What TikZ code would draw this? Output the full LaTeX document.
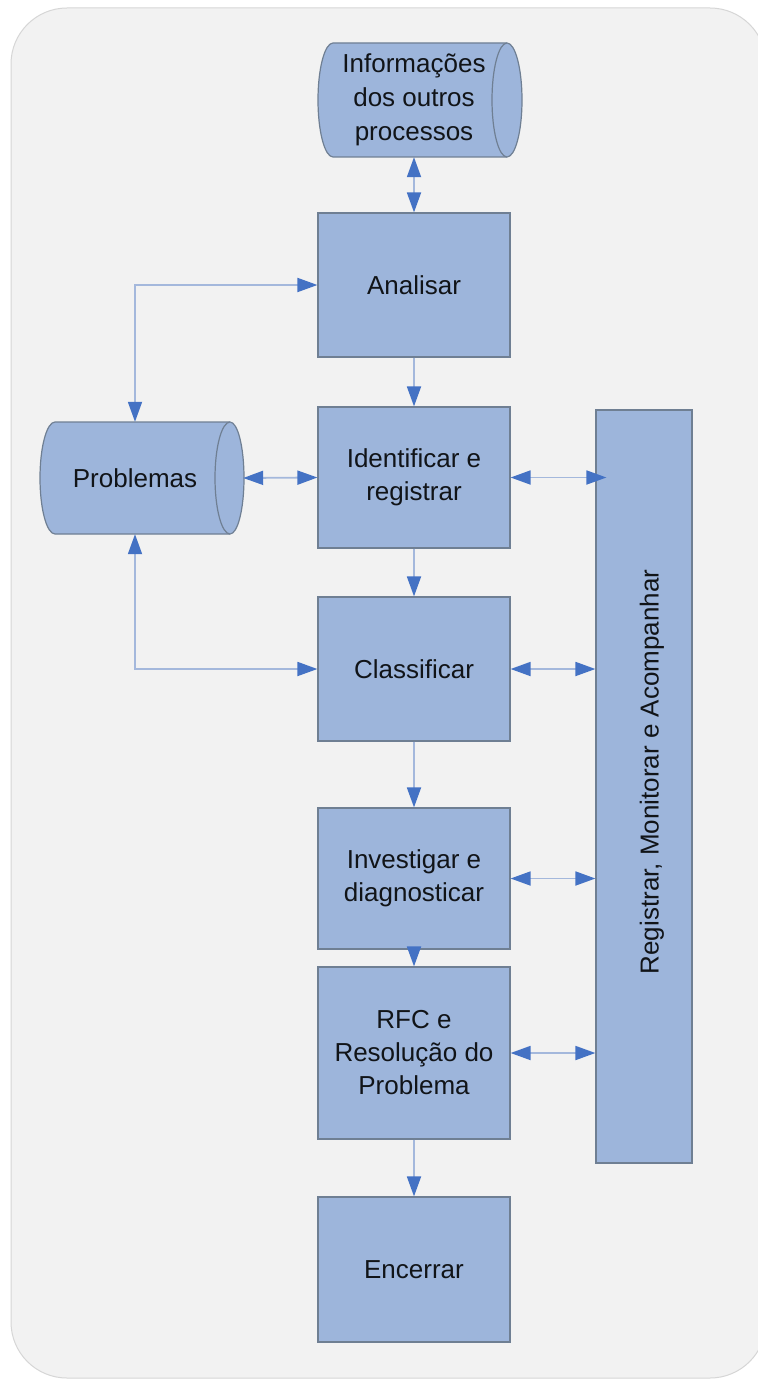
\documentclass[tikz,border=0pt]{standalone}
\usepackage{fontspec}
\setmainfont{Liberation Sans}
\usetikzlibrary{arrows.meta}
\definecolor{boxfill}{HTML}{9DB5DB}
\definecolor{boxline}{HTML}{6F7F93}
\definecolor{ablue}{HTML}{4472C4}
\definecolor{lineblue}{HTML}{A4B8DC}
\definecolor{bgc}{HTML}{F2F2F2}
\definecolor{bgline}{HTML}{D6D6D6}
\definecolor{txt}{HTML}{111418}
\tikzset{
  procbox/.style={draw=boxline, fill=boxfill, line width=1.2pt, minimum width=192pt,
    align=center, text=txt, font=\fontsize{26}{33}\selectfont, inner sep=0pt},
  ghost/.style={inner sep=0pt, align=center, text=txt, font=\fontsize{26}{34}\selectfont},
  cyl/.style={draw=boxline, fill=boxfill, line width=1.2pt},
  conn/.style={draw=lineblue, line width=1.8pt},
  sarrow/.style={conn, -{Triangle[length=20pt,width=14pt,color=ablue,fill=ablue]}},
  dbl/.style={conn, {Triangle[length=20pt,width=14pt,color=ablue,fill=ablue]}-{Triangle[length=20pt,width=14pt,color=ablue,fill=ablue]}},
}
\begin{document}
\begin{tikzpicture}[x=1pt,y=1pt]
\useasboundingbox (0,0) rectangle (757,-1380);
\fill[white] (0,0) rectangle (757,-1380);
\draw[fill=bgc, draw=bgline, line width=1pt, rounded corners=56pt] (11,-8) rectangle (766,-1378);

% cylinders
\draw[cyl] (333,-43) -- (507,-43) arc[start angle=90,end angle=-90,x radius=15,y radius=57]
  -- (333,-157) arc[start angle=270,end angle=90,x radius=15,y radius=57] -- cycle;
\draw[cyl] (507,-43) arc[start angle=90,end angle=270,x radius=15,y radius=57];
\draw[cyl] (55,-422) -- (230,-422) arc[start angle=90,end angle=-90,x radius=14,y radius=56]
  -- (55,-534) arc[start angle=270,end angle=90,x radius=15,y radius=56] -- cycle;
\draw[cyl] (230,-422) arc[start angle=90,end angle=270,x radius=15,y radius=56];

\node[ghost, minimum width=190pt, minimum height=114pt] (info) at (414,-100) {Informações\\dos outros\\processos};
\node[ghost, minimum width=216pt, minimum height=112pt] (prob) at (135,-478) {Problemas};

% process boxes
\node[procbox, minimum height=144pt] (ana) at (414,-285) {Analisar};
\node[procbox, minimum height=141pt] (ident) at (414,-477.5) {Identificar e\\registrar};
\node[procbox, minimum height=144pt] (clas) at (414,-669) {Classificar};
\node[procbox, minimum height=141pt] (inv) at (414,-878.5) {Investigar e\\diagnosticar};
\node[procbox, minimum height=172pt] (rfc) at (414,-1053) {RFC e\\Resolução do\\Problema};
\node[procbox, minimum height=145pt] (enc) at (414,-1269.5) {Encerrar};
\node[procbox, minimum width=96pt, minimum height=753pt] (reg) at (644,-786.5) {};
\node[ghost, rotate=90] (regtxt) at (652,-772) {Registrar, Monitorar e Acompanhar};

% connectors
\draw[dbl] (ana.north) -- (ana.north |- info.south);
\draw[sarrow] (ana.south) -- (ident.north);
\draw[sarrow] (ident.south) -- (clas.north);
\draw[sarrow] (clas.south) -- (inv.north);
\draw[sarrow] (inv.south) -- (rfc.north);
\draw[sarrow] (rfc.south) -- (enc.north);
\draw[dbl] (ana.west) -| (prob.north);
\draw[dbl] (prob.south) |- (clas.west);
\draw[dbl] (prob.east) -- (ident.west);
\draw[dbl, shorten >=-11pt] (ident.east) -- (ident.east -| reg.west);
\draw[dbl] (clas.east) -- (clas.east -| reg.west);
\draw[dbl] (inv.east) -- (inv.east -| reg.west);
\draw[dbl] (rfc.east) -- (rfc.east -| reg.west);
\end{tikzpicture}
\end{document}
